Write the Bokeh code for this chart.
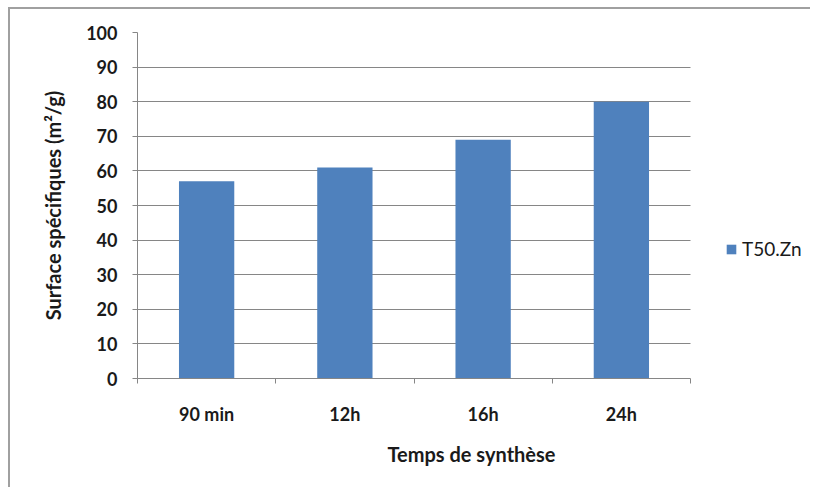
from bokeh.plotting import figure
from bokeh.layouts import column
from bokeh.models import Range1d, FixedTicker, Legend, LegendItem
from bokeh.embed import file_html
from bokeh.resources import INLINE

categories = ["90 min", "12h", "16h", "24h"]
surface = [57, 61, 69, 80]
series_name = "T50.Zn"
y_ticks = [0, 10, 20, 30, 40, 50, 60, 70, 80, 90, 100]

n = len(categories)
xs = [i + 0.5 for i in range(n)]
boundaries = list(range(n + 1))

FONT = "Lato"
GRAY = "#868686"
TXT = "#1a1a1a"
FRAME_COLOR = "#a0a0a0"

# frame spans to near the right edge so that the legend lies inside it;
# axis and gridlines are bounded to the category span
FRAME_L, FRAME_R_DATA, FRAME_R = 137, 690, 805
x_end = n * (FRAME_R - FRAME_L) / (FRAME_R_DATA - FRAME_L)

p = figure(width=810, height=487, output_backend="svg", toolbar_location=None,
           x_range=Range1d(0, x_end), y_range=Range1d(0, 100),
           min_border_left=FRAME_L, min_border_right=810 - FRAME_R,
           min_border_top=32, min_border_bottom=109)
p.outline_line_color = None
p.background_fill_color = "white"
p.border_fill_alpha = 0

bars = p.vbar(x=xs, top=surface, width=0.4, fill_color="#4F81BD", line_color=None)

# x axis
xa = p.xaxis[0]
xa.bounds = (0, n)
xa.ticker = FixedTicker(ticks=xs, minor_ticks=boundaries)
xa.major_label_overrides = {float(x): c for x, c in zip(xs, categories)}
xa.major_tick_line_color = None
xa.minor_tick_line_color = GRAY
xa.minor_tick_in = 0
xa.minor_tick_out = 5
xa.axis_line_color = GRAY
xa.major_label_standoff = 18
xa.major_label_text_font = FONT
xa.major_label_text_font_style = "bold"
xa.major_label_text_font_size = "18px"
xa.major_label_text_color = TXT
xa.axis_label = "Temps de synthèse"
xa.axis_label_text_font = FONT
xa.axis_label_text_font_style = "bold"
xa.axis_label_text_font_size = "20px"
xa.axis_label_text_color = TXT
xa.axis_label_standoff = 14

# y axis
ya = p.yaxis[0]
ya.ticker = FixedTicker(ticks=y_ticks)
ya.minor_tick_line_color = None
ya.major_tick_line_color = GRAY
ya.major_tick_in = 0
ya.major_tick_out = 5
ya.axis_line_color = GRAY
ya.major_label_standoff = 15
ya.major_label_text_font = FONT
ya.major_label_text_font_style = "bold"
ya.major_label_text_font_size = "18px"
ya.major_label_text_color = TXT
ya.axis_label = "Surface spécifiques (m²/g)"
ya.axis_label_text_font = FONT
ya.axis_label_text_font_style = "bold"
ya.axis_label_text_font_size = "20px"
ya.axis_label_text_color = TXT
ya.axis_label_standoff = 18

p.xgrid.grid_line_color = None
p.ygrid.grid_line_color = GRAY
p.ygrid.grid_line_width = 1
p.ygrid.cross_bounds = (0, n)

legend = Legend(items=[LegendItem(label=series_name, renderers=[bars])],
                location=(588, 118), border_line_color=None,
                background_fill_alpha=0, padding=0, margin=0,
                glyph_width=12, glyph_height=12, label_standoff=5,
                label_text_font=FONT, label_text_font_size="19px",
                label_text_color=TXT)
p.add_layout(legend, "center")

# chart-area border (left and top) drawn behind the transparent canvas
layout = column(p, styles={
    "background-image": (f"linear-gradient({FRAME_COLOR},{FRAME_COLOR}), "
                         f"linear-gradient({FRAME_COLOR},{FRAME_COLOR})"),
    "background-position": "8px 7px, 8px 7px",
    "background-size": "2px 2000px, 2000px 2px",
    "background-repeat": "no-repeat, no-repeat",
    "background-color": "white",
})

open("out.html", "w").write(file_html(layout, INLINE))
